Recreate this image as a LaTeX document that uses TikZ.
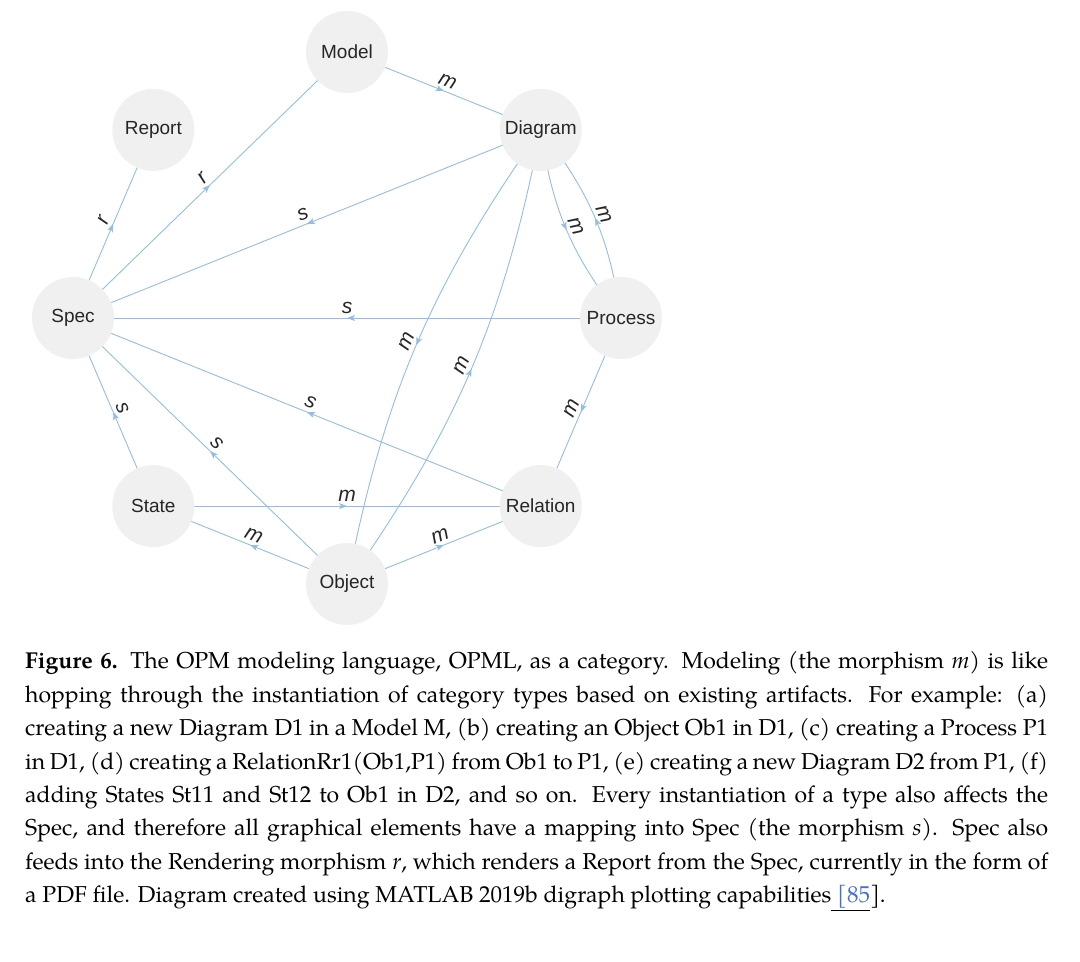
\documentclass[tikz,border=0pt]{standalone}
\usepackage{fontspec}
\usetikzlibrary{arrows.meta,decorations.markings}
\newfontfamily\lsans{Liberation Sans}
\newfontfamily\palfont{TeX Gyre Pagella}
\newcommand{\capfont}{\palfont\fontsize{23}{33.4}\selectfont}
\definecolor{edgecol}{RGB}{145,190,228}
\definecolor{nodefill}{RGB}{240,240,240}
\definecolor{citeblue}{RGB}{70,110,215}
\pgfdeclarelayer{background}
\pgfsetlayers{background,main}
\tikzset{
  vertex/.style={circle, fill=nodefill, minimum size=82pt, inner sep=0pt,
    font=\lsans\fontsize{19}{19}\selectfont, text=black!85},
  edge/.style={draw=edgecol, line width=0.9pt, postaction={decorate},
    decoration={markings, mark=at position 0.5 with {\arrow{Stealth[length=8pt,width=6pt,inset=2pt]}}}},
  elab/.style={sloped, above=3pt, inner sep=1pt,
    font=\lsans\itshape\fontsize{21}{21}\selectfont, text=black!85},
  captext/.style={anchor=base west, inner sep=0pt, text width=1023pt, align=justify, font=\capfont},
}
\begin{document}
\begin{tikzpicture}[x=1pt,y=1pt]
\useasboundingbox (0,0) rectangle (1080,962);
% nodes (regular octagon layout)
\node[vertex] (model)    at (347,910)     {Model};
\node[vertex] (diagram)  at (540.7,832.1) {Diagram};
\node[vertex] (process)  at (621,644)     {Process};
\node[vertex] (relation) at (540.7,455.9) {Relation};
\node[vertex] (object)   at (347,378)     {Object};
\node[vertex] (state)    at (153.3,455.9) {State};
\node[vertex] (spec)     at (73,644)      {Spec};
\node[vertex] (report)   at (153.3,832.1) {Report};
% edges
\begin{pgfonlayer}{background}
\draw[edge] (model.center) -- node[elab]{m} (diagram.center);
\draw[edge] (spec.center) -- node[elab]{r} (model.center);
\draw[edge] (spec.center) -- node[elab]{r} (report.center);
\draw[edge] (diagram.center) -- node[elab]{s} (spec.center);
\draw[edge] (process.center) -- node[elab]{s} (spec.center);
\draw[edge] (relation.center) -- node[elab]{s} (spec.center);
\draw[edge] (state.center) -- node[elab]{s} (spec.center);
\draw[edge] (object.center) -- node[elab]{s} (spec.center);
\draw[edge] (state.center) -- node[elab]{m} (relation.center);
\draw[edge] (object.center) -- node[elab]{m} (state.center);
\draw[edge] (object.center) -- node[elab]{m} (relation.center);
\draw[edge] (diagram.center) to[bend right=12] node[elab]{m} (object.center);
\draw[edge] (object.center) to[bend right=12] node[elab]{m} (diagram.center);
\draw[edge] (diagram.center) to[bend right=15] node[elab]{m} (process.center);
\draw[edge] (process.center) to[bend right=15] node[elab]{m} (diagram.center);
\draw[edge] (process.center) -- node[elab]{m} (relation.center);
\end{pgfonlayer}
% caption
\node[captext] (caption) at (25,293) {%
\textbf{Figure 6.} The OPM modeling language, OPML, as a category. Modeling (the morphism \textit{m}) is like\linebreak
hopping through the instantiation of category types based on existing artifacts. For example: (a)\linebreak
creating a new Diagram D1 in a Model M, (b) creating an Object Ob1 in D1, (c) creating a Process P1\linebreak
in D1, (d) creating a RelationRr1(Ob1,P1) from Ob1 to P1, (e) creating a new Diagram D2 from P1, (f)\linebreak
adding States St11 and St12 to Ob1 in D2, and so on. Every instantiation of a type also affects the\linebreak
Spec, and therefore all graphical elements have a mapping into Spec (the morphism \textit{s}). Spec also\linebreak
feeds into the Rendering morphism \textit{r}, which renders a Report from the Spec, currently in the form of\linebreak
a PDF file. Diagram created using MATLAB 2019b digraph plotting capabilities\underline{\textcolor{citeblue}{\ [85}}].\par};
\end{tikzpicture}
\end{document}
